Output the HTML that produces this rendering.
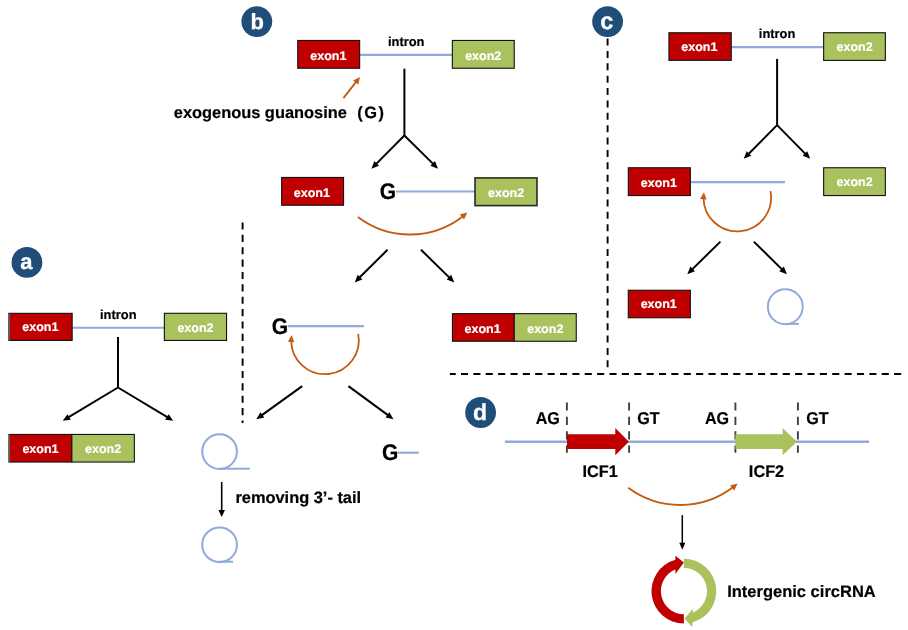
<!DOCTYPE html>
<html lang="en"><head><meta charset="utf-8"><title>circRNA biogenesis</title>
<style>
html,body{margin:0;padding:0;background:#fff;}
body{width:908px;height:630px;overflow:hidden;}
svg{display:block;will-change:transform;}
text{font-family:"Liberation Sans",Arial,Helvetica,sans-serif;font-weight:bold;text-rendering:geometricPrecision;stroke:#000;stroke-width:0.2px;}
.ex{font-size:12.5px;fill:#fff;text-anchor:middle;stroke:#fff;stroke-width:0.2px;}
.bd{fill:#fff;stroke:#fff;stroke-width:0.3px;text-anchor:middle;}
</style></head><body>
<svg width="908" height="630" viewBox="0 0 908 630">
<rect width="908" height="630" fill="#fff"/>
<line x1="72" y1="327.7" x2="164.5" y2="327.7" stroke="#8faadc" stroke-width="2.1" />
<line x1="359.5" y1="54.9" x2="452.5" y2="54.9" stroke="#8faadc" stroke-width="2.1" />
<line x1="396.0" y1="191.5" x2="475" y2="191.5" stroke="#8faadc" stroke-width="2.1" />
<line x1="287.7" y1="326.1" x2="363.9" y2="326.1" stroke="#8faadc" stroke-width="2.1" />
<line x1="397.7" y1="452.7" x2="418.8" y2="452.7" stroke="#8faadc" stroke-width="2.1" />
<line x1="731" y1="47.1" x2="823.8" y2="47.1" stroke="#8faadc" stroke-width="2.1" />
<line x1="690.3" y1="182.1" x2="785.1" y2="182.1" stroke="#8faadc" stroke-width="2.1" />
<line x1="504.9" y1="441.7" x2="869.1" y2="441.7" stroke="#8faadc" stroke-width="2.4" />
<circle cx="26.95" cy="262.4" r="15.4" fill="#1f4e79"/>
<text x="26.45" y="269.10" class="bd" font-size="22">a</text>
<rect x="8.75" y="313.35" width="63.40" height="27.10" fill="#c00000" stroke="#111" stroke-width="1.1"/>
<text x="40.40" y="331.40" class="ex">exon1</text>
<rect x="164.35" y="313.30" width="62.20" height="27.15" fill="#a9c25e" stroke="#111" stroke-width="1.1"/>
<text x="195.45" y="331.60" class="ex">exon2</text>
<text x="118.3" y="319.0" font-size="12.9" text-anchor="middle" fill="#000" stroke="#000" stroke-width="0.3">intron</text>
<line x1="118.0" y1="337.1" x2="118.0" y2="387.8" stroke="#000" stroke-width="2.0" />
<line x1="118.00" y1="387.50" x2="68.27" y2="417.45" stroke="#000" stroke-width="2.0"/>
<polygon points="62.70,420.80 67.45,414.15 70.80,419.72" fill="#000"/>
<line x1="118.00" y1="387.50" x2="167.73" y2="417.45" stroke="#000" stroke-width="2.0"/>
<polygon points="173.30,420.80 165.20,419.72 168.55,414.15" fill="#000"/>
<rect x="8.95" y="434.45" width="62.90" height="27.60" fill="#c00000" stroke="#111" stroke-width="1.1"/>
<text x="40.50" y="453.25" class="ex">exon1</text>
<rect x="71.85" y="434.45" width="62.50" height="27.60" fill="#a9c25e" stroke="#111" stroke-width="1.1"/>
<text x="103.10" y="453.25" class="ex">exon2</text>
<line x1="9.0" y1="313.4" x2="9.0" y2="340.4" stroke="#707070" stroke-width="1.5" />
<line x1="9.1" y1="434.5" x2="9.1" y2="461.9" stroke="#707070" stroke-width="1.5" />
<circle cx="219.57" cy="451.6" r="17.35" fill="none" stroke="#8faadc" stroke-width="2"/>
<line x1="219.57" y1="468.7" x2="249.97" y2="468.7" stroke="#8faadc" stroke-width="2" />
<line x1="221.70" y1="482.00" x2="221.70" y2="511.00" stroke="#000" stroke-width="1.6"/>
<polygon points="221.70,517.00 218.45,510.00 224.95,510.00" fill="#000"/>
<text x="235.4" y="502.9" font-size="16.4" text-anchor="start" fill="#000" >removing 3’- tail</text>
<circle cx="219.57" cy="544.75" r="17.35" fill="none" stroke="#8faadc" stroke-width="2"/>
<line x1="219.57" y1="561.7" x2="233.07" y2="561.7" stroke="#8faadc" stroke-width="2" />
<circle cx="256.8" cy="21.6" r="15.4" fill="#1f4e79"/>
<text x="257.20" y="28.70" class="bd" font-size="22">b</text>
<rect x="297.75" y="40.45" width="61.90" height="27.80" fill="#c00000" stroke="#111" stroke-width="1.1"/>
<text x="328.40" y="59.50" class="ex">exon1</text>
<rect x="452.35" y="40.45" width="61.90" height="27.80" fill="#a9c25e" stroke="#111" stroke-width="1.1"/>
<text x="483.20" y="59.50" class="ex">exon2</text>
<text x="406.2" y="46.2" font-size="12.9" text-anchor="middle" fill="#000" stroke="#000" stroke-width="0.3">intron</text>
<line x1="343.40" y1="98.10" x2="356.30" y2="81.62" stroke="#c55a11" stroke-width="1.8"/>
<polygon points="360.00,76.90 358.24,84.42 353.13,80.41" fill="#c55a11"/>
<text font-size="16.4" fill="#000"><tspan x="173.8" y="118.4">exogenous guanosine</tspan><tspan x="357.3" y="118.4" letter-spacing="1.5">(G)</tspan></text>
<line x1="404.4" y1="68.7" x2="404.4" y2="135.8" stroke="#000" stroke-width="2.0" />
<line x1="404.40" y1="135.50" x2="375.98" y2="164.09" stroke="#000" stroke-width="2.0"/>
<polygon points="371.40,168.70 374.38,161.09 378.99,165.67" fill="#000"/>
<line x1="404.40" y1="135.50" x2="433.38" y2="164.13" stroke="#000" stroke-width="2.0"/>
<polygon points="438.00,168.70 430.38,165.74 434.95,161.12" fill="#000"/>
<rect x="281.65" y="177.45" width="61.90" height="27.80" fill="#c00000" stroke="#111" stroke-width="1.1"/>
<text x="311.90" y="196.50" class="ex">exon1</text>
<text transform="translate(387.85,199.0) scale(1,1.07)" x="0" y="0" font-size="21" text-anchor="middle" fill="#000">G</text>
<rect x="475.00" y="177.90" width="62.00" height="27.70" fill="#a9c25e" stroke="#2a2a22" stroke-width="1.6"/>
<text x="506.10" y="196.70" class="ex">exon2</text>
<path d="M357.90,217.00 A86.08,86.08 0 0 0 463.01,216.19" fill="none" stroke="#c55a11" stroke-width="1.8"/>
<polygon points="467.30,212.60 464.02,219.59 459.85,214.60" fill="#c55a11"/>
<line x1="387.50" y1="249.80" x2="359.31" y2="277.82" stroke="#000" stroke-width="2.0"/>
<polygon points="354.70,282.40 357.73,274.81 362.31,279.42" fill="#000"/>
<line x1="421.00" y1="249.80" x2="449.66" y2="277.85" stroke="#000" stroke-width="2.0"/>
<polygon points="454.30,282.40 446.67,279.48 451.21,274.83" fill="#000"/>
<line x1="242.6" y1="222.4" x2="242.6" y2="422.9" stroke="#000" stroke-width="1.9" stroke-dasharray="7.1 5.275"/>
<text transform="translate(279.9,334.3) scale(1,1.07)" x="0" y="0" font-size="21" text-anchor="middle" fill="#000">G</text>
<path d="M358.18,333.95 A33.8,33.8 0 1 1 291.20,340.69" fill="none" stroke="#c55a11" stroke-width="1.8"/>
<polygon points="291.62,335.11 294.34,342.33 287.86,341.85" fill="#c55a11"/>
<line x1="302.20" y1="386.10" x2="261.57" y2="415.40" stroke="#000" stroke-width="2.0"/>
<polygon points="256.30,419.20 260.48,412.18 264.28,417.45" fill="#000"/>
<line x1="348.40" y1="386.10" x2="388.26" y2="415.35" stroke="#000" stroke-width="2.0"/>
<polygon points="393.50,419.20 385.53,417.38 389.38,412.14" fill="#000"/>
<rect x="452.45" y="313.65" width="61.80" height="27.60" fill="#c00000" stroke="#111" stroke-width="1.1"/>
<text x="482.60" y="332.70" class="ex">exon1</text>
<rect x="514.25" y="313.65" width="62.00" height="27.60" fill="#a9c25e" stroke="#111" stroke-width="1.1"/>
<text x="545.30" y="332.70" class="ex">exon2</text>
<text transform="translate(390.2,460.4) scale(1,1.07)" x="0" y="0" font-size="21" text-anchor="middle" fill="#000">G</text>
<line x1="449.9" y1="374" x2="901.3" y2="374" stroke="#000" stroke-width="1.9" stroke-dasharray="7.1 5.275" stroke-dashoffset="1.3"/>
<line x1="607.6" y1="38.5" x2="607.6" y2="368" stroke="#000" stroke-width="1.9" stroke-dasharray="7.1 5.275"/>
<circle cx="607.6" cy="21.6" r="15.4" fill="#1f4e79"/>
<text x="606.90" y="28.90" class="bd" font-size="23.5">c</text>
<rect x="668.95" y="32.75" width="62.30" height="27.60" fill="#c00000" stroke="#111" stroke-width="1.1"/>
<text x="699.40" y="50.90" class="ex">exon1</text>
<rect x="823.65" y="32.75" width="61.70" height="27.65" fill="#a9c25e" stroke="#111" stroke-width="1.1"/>
<text x="854.60" y="51.20" class="ex">exon2</text>
<text x="777.1" y="38.3" font-size="12.9" text-anchor="middle" fill="#000" stroke="#000" stroke-width="0.3">intron</text>
<line x1="777.1" y1="58.9" x2="777.1" y2="125.4" stroke="#000" stroke-width="2.0" />
<line x1="777.10" y1="125.10" x2="748.28" y2="154.18" stroke="#000" stroke-width="2.0"/>
<polygon points="743.70,158.80 746.67,151.19 751.29,155.76" fill="#000"/>
<line x1="777.10" y1="125.10" x2="805.65" y2="154.16" stroke="#000" stroke-width="2.0"/>
<polygon points="810.20,158.80 802.63,155.73 807.26,151.17" fill="#000"/>
<rect x="628.30" y="167.75" width="62.05" height="27.80" fill="#c00000" stroke="#111" stroke-width="1.1"/>
<text x="658.85" y="186.60" class="ex">exon1</text>
<rect x="823.65" y="167.75" width="61.70" height="27.80" fill="#a9c25e" stroke="#111" stroke-width="1.1"/>
<text x="854.60" y="186.40" class="ex">exon2</text>
<path d="M770.48,191.15 A33.8,33.8 0 1 1 703.50,197.89" fill="none" stroke="#c55a11" stroke-width="1.8"/>
<polygon points="703.92,192.31 706.64,199.53 700.16,199.05" fill="#c55a11"/>
<line x1="720.40" y1="241.60" x2="691.93" y2="269.64" stroke="#000" stroke-width="2.0"/>
<polygon points="687.30,274.20 690.36,266.62 694.92,271.25" fill="#000"/>
<line x1="753.80" y1="241.60" x2="782.27" y2="269.64" stroke="#000" stroke-width="2.0"/>
<polygon points="786.90,274.20 779.28,271.25 783.84,266.62" fill="#000"/>
<rect x="628.30" y="290.25" width="62.05" height="27.50" fill="#c00000" stroke="#111" stroke-width="1.1"/>
<text x="658.70" y="308.40" class="ex">exon1</text>
<circle cx="785.3" cy="306.75" r="17.45" fill="none" stroke="#8faadc" stroke-width="2"/>
<line x1="785.3" y1="323.9" x2="798.9" y2="323.9" stroke="#8faadc" stroke-width="2" />
<circle cx="480.6" cy="412.5" r="15.4" fill="#1f4e79"/>
<text x="480.10" y="420.40" class="bd" font-size="23">d</text>
<line x1="566.9" y1="402.4" x2="566.9" y2="452.7" stroke="#404040" stroke-width="1.9" stroke-dasharray="8.2 6.2"/>
<line x1="629.1" y1="402.4" x2="629.1" y2="452.7" stroke="#404040" stroke-width="1.9" stroke-dasharray="8.2 6.2"/>
<line x1="735.4" y1="402.4" x2="735.4" y2="452.7" stroke="#404040" stroke-width="1.9" stroke-dasharray="8.2 6.2"/>
<line x1="797.9" y1="402.4" x2="797.9" y2="452.7" stroke="#404040" stroke-width="1.9" stroke-dasharray="8.2 6.2"/>
<polygon points="567,434.3 615.3,434.3 615.3,428.1 628.8,441.7 615.3,455.2 615.3,448.9 567,448.9" fill="#c00000"/>
<polygon points="735.4,434.3 782.6,434.3 782.6,428.1 796.9,441.7 782.6,455.2 782.6,448.9 735.4,448.9" fill="#a9c25e"/>
<text transform="translate(547.8,424.0) scale(1,1.07)" x="0" y="0" font-size="16.1" text-anchor="middle" fill="#000">AG</text>
<text transform="translate(648.4,424.0) scale(1,1.07)" x="0" y="0" font-size="16.1" text-anchor="middle" fill="#000">GT</text>
<text transform="translate(717,424.0) scale(1,1.07)" x="0" y="0" font-size="16.1" text-anchor="middle" fill="#000">AG</text>
<text transform="translate(817.5,424.0) scale(1,1.07)" x="0" y="0" font-size="16.1" text-anchor="middle" fill="#000">GT</text>
<text transform="translate(600.1,476.6) scale(1,1.03)" x="0" y="0" font-size="16.3" text-anchor="middle" fill="#000">ICF1</text>
<text transform="translate(766.5,476.6) scale(1,1.03)" x="0" y="0" font-size="16.3" text-anchor="middle" fill="#000">ICF2</text>
<path d="M628.20,487.80 A87.28,87.28 0 0 0 733.26,487.04" fill="none" stroke="#c55a11" stroke-width="1.8"/>
<polygon points="737.60,483.50 734.24,490.45 730.12,485.41" fill="#c55a11"/>
<line x1="682.30" y1="515.10" x2="682.30" y2="543.80" stroke="#000" stroke-width="1.5"/>
<polygon points="682.30,549.80 679.30,542.80 685.30,542.80" fill="#000"/>
<path d="M683.9,623.5 A32.4,32.4 0 0 1 675.4,559.84 L675.4,555.8000000000001 L683.9,562.5 L675.4,574.0 L675.4,569.60 A23.2,23.2 0 0 0 683.9,614.3000000000001 Z" fill="#c00000"/>
<path d="M683.9,558.7 A32.4,32.4 0 0 1 692.6,622.30 L692.1999999999999,626.9 L684.5,618.5 L693.1,608.4 L692.8,612.50 A23.2,23.2 0 0 0 683.9,567.9 Z" fill="#a9c25e"/>
<text x="727.2" y="596.9" font-size="16.5" text-anchor="start" fill="#000" >Intergenic circRNA</text>
</svg>
</body></html>
